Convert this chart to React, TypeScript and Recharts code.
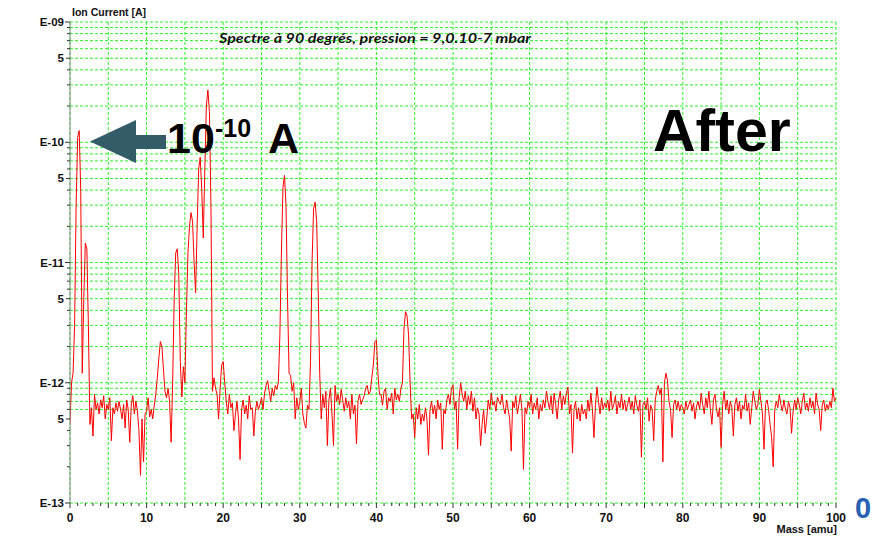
import { LineChart, Line, XAxis, YAxis, CartesianGrid } from 'recharts'

// Scan step of the mass sweep, amu
const MASS_STEP = 0.2

// Ion current in pA, one value per 0.2 amu, split by 10 amu
const current0to10 = [
  0.46, 1.0, 1.2, 3, 30, 110, 125, 40, 1.2, 5,
  14.5, 13, 3, 0.45, 0.62, 0.36, 0.8, 0.6, 0.68, 0.55,
  0.72, 0.62, 0.78, 0.5, 0.66, 0.6, 0.75, 0.33, 0.62, 0.55,
  0.68, 0.58, 0.7, 0.6, 0.5, 0.66, 0.42, 0.72, 0.6, 0.32,
  0.65, 0.78, 0.55, 0.7, 0.58, 0.4, 0.17, 0.5, 0.22, 0.55,
]
const current10to20 = [
  0.58, 0.75, 0.52, 0.6, 0.5, 0.65, 0.8, 1.1, 1.6, 2.2,
  2.0, 1.3, 0.85, 0.75, 0.9, 0.7, 0.32, 1.0, 5, 12,
  13, 8, 1.5, 0.76, 1.36, 1.0, 4, 12, 20, 26,
  22, 10, 5.6, 20, 60, 75, 40, 16, 60, 200,
  272, 180, 30, 0.85, 1.1, 0.9, 0.8, 0.5, 0.9, 1.4,
]
const current20to30 = [
  1.5, 1.0, 0.7, 0.55, 0.8, 0.62, 0.68, 0.4, 0.55, 0.7,
  0.5, 0.23, 0.6, 0.72, 0.55, 0.65, 0.5, 0.78, 0.6, 0.62,
  0.36, 0.58, 0.7, 0.6, 0.66, 0.75, 0.6, 0.82, 0.95, 1.04,
  0.85, 0.7, 0.9, 0.78, 0.95, 0.88, 1.0, 2.5, 12, 42,
  53, 30, 5, 1.2, 1.15, 0.85, 1.0, 0.5, 0.75, 0.6,
]
const current30to40 = [
  0.7, 0.9, 0.55, 0.46, 0.42, 0.65, 0.6, 1.5, 10, 28,
  31.8, 22, 6, 1.2, 0.5, 0.8, 0.62, 0.85, 0.3, 0.72,
  0.9, 0.55, 0.3, 0.95, 0.7, 0.8, 0.66, 0.88, 0.72, 0.58,
  0.75, 0.62, 0.7, 0.5, 0.8, 0.55, 0.65, 0.31, 0.7, 0.8,
  0.66, 0.72, 0.78, 0.9, 0.95, 0.8, 0.85, 1.1, 1.4, 2.2,
]
const current40to50 = [
  2.26, 1.2, 0.8, 0.8, 0.65, 0.85, 0.9, 0.6, 0.75, 0.7,
  0.82, 0.55, 0.9, 0.72, 0.8, 0.7, 0.9, 1.0, 2.8, 3.9,
  3.6, 2.5, 1.0, 0.5, 0.55, 0.35, 0.62, 0.5, 0.66, 0.45,
  0.55, 0.48, 0.62, 0.5, 0.25, 0.6, 0.7, 0.55, 0.65, 0.5,
  0.72, 0.6, 0.68, 0.28, 0.6, 0.55, 0.72, 0.8, 0.66, 0.9,
]
const current50to60 = [
  0.96, 0.6, 0.7, 0.28, 0.75, 1.0, 0.8, 0.7, 0.85, 0.6,
  0.78, 0.66, 0.85, 0.58, 0.75, 0.5, 0.62, 0.55, 0.3, 0.45,
  0.6, 0.38, 0.5, 0.72, 0.6, 0.82, 0.65, 0.7, 0.58, 0.76,
  0.7, 0.66, 0.8, 0.62, 0.55, 0.72, 0.6, 0.5, 0.27, 0.7,
  0.62, 0.78, 0.55, 0.66, 0.8, 0.6, 0.19, 0.62, 0.55, 0.7,
]
const current60to70 = [
  0.62, 0.8, 0.55, 0.68, 0.6, 0.75, 0.5, 0.66, 0.58, 0.72,
  0.62, 0.85, 0.7, 0.6, 0.78, 0.55, 0.82, 0.66, 0.5, 0.72,
  0.85, 0.6, 0.78, 0.66, 0.82, 0.92, 0.55, 0.66, 0.26, 0.6,
  0.7, 0.5, 0.62, 0.48, 0.66, 0.55, 0.6, 0.5, 0.72, 0.58,
  0.82, 0.6, 0.35, 0.66, 0.92, 0.7, 0.55, 0.75, 0.6, 0.68,
]
const current70to80 = [
  0.62, 0.72, 0.58, 0.85, 0.6, 0.66, 0.78, 0.55, 0.7, 0.62,
  0.8, 0.6, 0.72, 0.58, 0.66, 0.76, 0.6, 0.7, 0.55, 0.78,
  0.65, 0.58, 0.72, 0.24, 0.66, 0.7, 0.6, 0.75, 0.48, 0.65,
  0.6, 0.33, 0.72, 0.85, 0.95, 0.8, 0.9, 0.22, 1.0, 1.2,
  1.05, 0.7, 0.6, 0.35, 0.66, 0.72, 0.6, 0.7, 0.58, 0.66,
]
const current80to90 = [
  0.62, 0.55, 0.7, 0.6, 0.66, 0.72, 0.58, 0.68, 0.5, 0.64,
  0.7, 0.6, 0.82, 0.66, 0.55, 0.75, 0.62, 0.85, 0.6, 0.45,
  0.72, 0.8, 0.6, 0.52, 0.62, 0.29, 0.66, 0.85, 0.6, 0.72,
  0.55, 0.7, 0.62, 0.36, 0.66, 0.75, 0.58, 0.7, 0.5, 0.65,
  0.6, 0.8, 0.58, 0.68, 0.45, 0.62, 0.85, 0.7, 0.6, 0.66,
]
const current90to100 = [
  0.88, 0.7, 0.55, 0.28, 0.66, 0.72, 0.6, 0.45, 0.35, 0.2,
  0.6, 0.7, 0.62, 0.8, 0.66, 0.58, 0.72, 0.6, 0.55, 0.7,
  0.62, 0.38, 0.58, 0.72, 0.6, 0.75, 0.66, 0.55, 0.7, 0.82,
  0.6, 0.68, 0.58, 0.75, 0.62, 0.7, 0.55, 0.82, 0.66, 0.6,
  0.4, 0.65, 0.72, 0.58, 0.66, 0.6, 0.7, 0.62, 0.9, 0.7,
  0.75,
]

const MASS_LABELS = [0, 10, 20, 30, 40, 50, 60, 70, 80, 90, 100]
const MASS_GRID = [0, 5, 10, 15, 20, 25, 30, 35, 40, 45, 50, 55, 60, 65, 70, 75, 80, 85, 90, 95, 100]
const MASS_TICKS = Array.from({ length: 101 }, (_, i) => i)

const DECADES = [1e-13, 1e-12, 1e-11, 1e-10]
const MANTISSAS = [1, 2, 3, 4, 5, 6, 7, 8, 9]
const CURRENT_TICKS = [...DECADES.flatMap(d => MANTISSAS.map(m => m * d)), 1e-9]
const CURRENT_GRID = [
  1e-13, 6e-13, 7e-13, 8e-13, 9e-13,
  ...[1e-12, 1e-11, 1e-10].flatMap(d => MANTISSAS.map(m => m * d)),
  1e-9,
]

const spectrum = [
  ...current0to10, ...current10to20, ...current20to30, ...current30to40, ...current40to50,
  ...current50to60, ...current60to70, ...current70to80, ...current80to90, ...current90to100,
].map((pA, i) => ({ mass: +(i * MASS_STEP).toFixed(1), current: pA * 1e-12 }))

const FONT = '"Liberation Sans", Arial, sans-serif'

function CurrentTick({ x, y, payload }: any) {
  const v = payload.value as number
  const e = Math.floor(Math.log10(v) + 1e-6)
  const m = Math.round(v / Math.pow(10, e))
  const label = m === 1 ? `E-${String(-e).padStart(2, '0')}` : m === 5 ? '5' : ''
  const len = m === 1 ? 5 : m === 5 ? 4 : 3
  return (
    <g>
      <line x1={x - len} x2={x} y1={y} y2={y} stroke="#333" strokeWidth={1} />
      {label && (
        <text x={x - 6} y={y} dy={4} textAnchor="end" fontSize={11.5} fontWeight="bold" fontFamily={FONT} fill="#111">
          {label}
        </text>
      )}
    </g>
  )
}

function MassTick({ x, y, payload }: any) {
  const v = payload.value as number
  const len = v % 5 === 0 ? 5 : 3
  return (
    <g>
      <line x1={x} x2={x} y1={y} y2={y + len} stroke="#333" strokeWidth={1} />
      {MASS_LABELS.includes(v) && (
        <text x={x} y={y + 19} textAnchor="middle" fontSize={12} fontWeight="bold" fontFamily={FONT} fill="#111">
          {v}
        </text>
      )}
    </g>
  )
}

export default function App() {
  return (
    <div style={{ position: 'absolute', left: 0, top: 0, width: 885, height: 536, background: '#fff' }}>
      <LineChart
        width={885}
        height={536}
        data={spectrum}
        margin={{ top: 22, right: 49, bottom: 0, left: 0 }}
      >
        <CartesianGrid
          stroke="#2cf02c"
          strokeDasharray="3 2"
          horizontalValues={CURRENT_GRID}
          verticalValues={MASS_GRID}
        />
        <XAxis
          dataKey="mass"
          type="number"
          domain={[0, 100]}
          ticks={MASS_TICKS}
          interval={0}
          allowDataOverflow
          axisLine={false}
          tickLine={false}
          tickSize={0}
          tickMargin={0}
          height={33}
          tick={<MassTick />}
        />
        <YAxis
          type="number"
          scale="log"
          domain={[1e-13, 1e-9]}
          ticks={CURRENT_TICKS}
          interval={0}
          allowDataOverflow
          axisLine={{ stroke: '#8a8a8a' }}
          tickLine={false}
          tickSize={0}
          tickMargin={0}
          width={70}
          tick={<CurrentTick />}
        />
        <Line
          type="linear"
          dataKey="current"
          stroke="#ff0000"
          strokeWidth={1}
          dot={false}
          isAnimationActive={false}
        />
      </LineChart>

      <svg width={885} height={536} style={{ position: 'absolute', left: 0, top: 0, pointerEvents: 'none' }}>
        <text x={72} y={16} fontSize={10.5} fontWeight="bold" fontFamily={FONT} fill="#111">Ion Current [A]</text>
        <text x={837} y={533} textAnchor="end" fontSize={11} fontWeight="bold" fontFamily={FONT} fill="#111">Mass [amu]</text>
        <text
          x={219}
          y={43}
          fontSize={13}
          fontWeight="bold"
          fontStyle="italic"
          fontFamily="Lato, 'Open Sans', sans-serif"
          fill="#111"
          textLength={312}
          lengthAdjust="spacingAndGlyphs"
        >
          Spectre à 90 degrés, pression = 9,0.10-7 mbar
        </text>

        <polygon points="90,141.5 136,120 136,135 166,135 166,149 136,149 136,163" fill="#335b68" />
        <text x={167} y={153} fontSize={43} fontWeight="bold" fontFamily={FONT} fill="#000">10</text>
        <text x={215} y={137} fontSize={25} fontWeight="bold" fontFamily={FONT} fill="#000">-10</text>
        <text x={268} y={153} fontSize={43} fontWeight="bold" fontFamily={FONT} fill="#000">A</text>

        <text x={653} y={151} fontSize={59} fontWeight="bold" fontFamily={FONT} fill="#000">After</text>
        <text x={855} y={518} fontSize={29} fontWeight="bold" fontFamily={FONT} fill="#2a62b2">0</text>
      </svg>
    </div>
  )
}
